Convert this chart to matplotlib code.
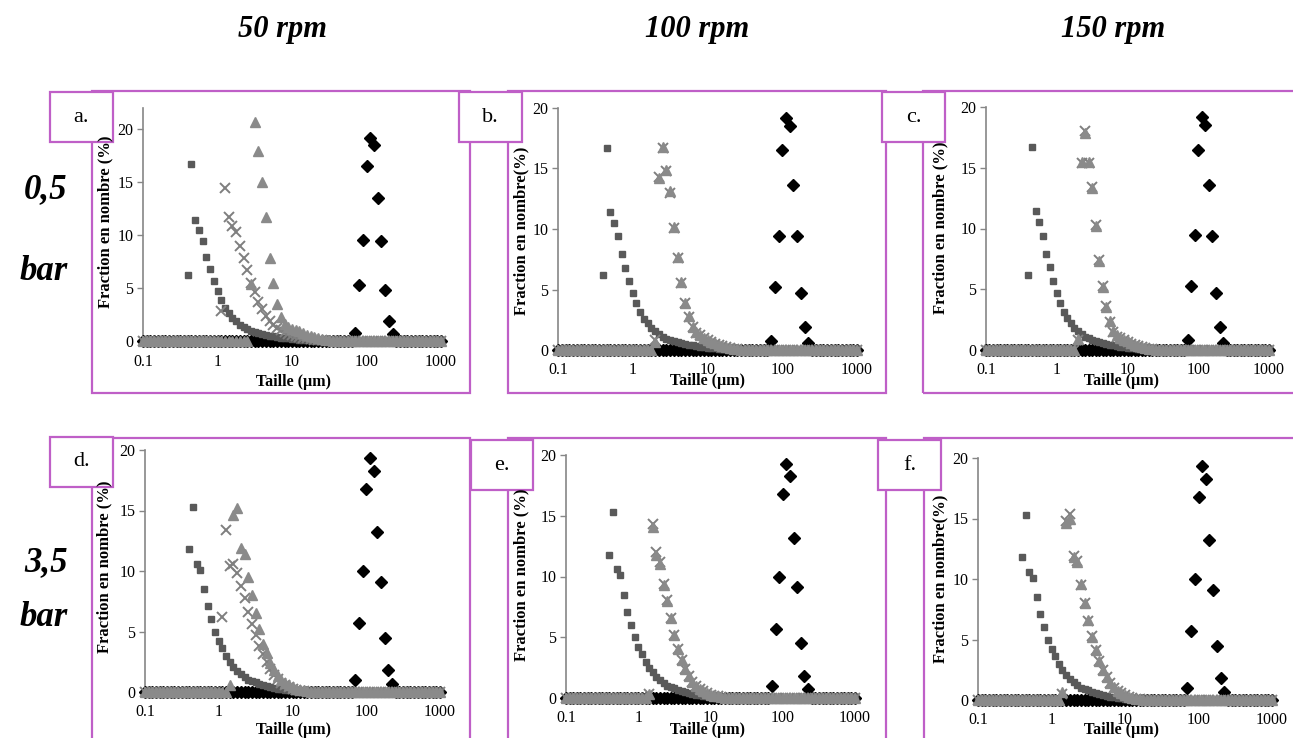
import numpy as np
import matplotlib
matplotlib.use("Agg")
import matplotlib.pyplot as plt
from matplotlib.patches import Rectangle

plt.rcParams['font.family'] = ['Liberation Serif', 'DejaVu Serif']

# ---------------- data ----------------
# particle size classes (µm), log-spaced bins as read on the axes
sizes = [0.1, 0.112, 0.126, 0.141, 0.158, 0.178, 0.2, 0.224, 0.251, 0.282,
         0.316, 0.355, 0.398, 0.447, 0.501, 0.562, 0.631, 0.708, 0.794, 0.891,
         1.0, 1.12, 1.26, 1.41, 1.58, 1.78, 2.0, 2.24, 2.51, 2.82,
         3.16, 3.55, 3.98, 4.47, 5.01, 5.62, 6.31, 7.08, 7.94, 8.91,
         10.0, 11.2, 12.6, 14.1, 15.8, 17.8, 20.0, 22.4, 25.1, 28.2,
         31.6, 35.5, 39.8, 44.7, 50.1, 56.2, 63.1, 70.8, 79.4, 89.1,
         100, 112, 126, 141, 158, 178, 200, 224, 251, 282,
         316, 355, 398, 447, 501, 562, 631, 708, 794, 891, 1000]

col_titles = ['50 rpm', '100 rpm', '150 rpm']
row_titles = [('0,5', 'bar'), ('3,5', 'bar')]
panel_letters = ['a.', 'b.', 'c.', 'd.', 'e.', 'f.']
xtick_vals = [0.1, 1, 10, 100, 1000]
xtick_labels = ['0.1', '1', '10', '100', '1000']
ytick_vals = [0, 5, 10, 15, 20]
xlabel_text = 'Taille (µm)'
ylabel_texts = ['Fraction en nombre (%)', 'Fraction en nombre(%)', 'Fraction en nombre (%)',
                'Fraction en nombre (%)', 'Fraction en nombre (%)', 'Fraction en nombre(%)']

# non-zero part of each series: (first size class, values); all other classes are 0
# squares (dark grey)
sq_top_start = 0.398
sq_top = [6.2, 16.7, 11.4, 10.5, 9.4, 7.9, 6.8, 5.7, 4.7, 3.9, 3.1, 2.6, 2.2, 1.85,
          1.55, 1.3, 1.1, 0.95, 0.85, 0.75, 0.65, 0.57, 0.5, 0.44, 0.38, 0.33, 0.28,
          0.24, 0.2, 0.16, 0.13, 0.1, 0.08, 0.06, 0.04, 0.03, 0.02, 0.01]
sq_bot_start = 0.398
sq_bot = [11.8, 15.3, 10.6, 10.1, 8.5, 7.1, 6.0, 5.0, 4.2, 3.6, 3.0, 2.5, 2.1, 1.75,
          1.45, 1.2, 1.0, 0.9, 0.8, 0.68, 0.58, 0.5, 0.42, 0.35, 0.28, 0.22, 0.17,
          0.13, 0.1, 0.07, 0.05, 0.03, 0.02]

# crosses (grey)
cr_a_start = 1.12
cr_a = [2.8, 14.4, 11.7, 10.9, 10.3, 9.0, 7.8, 6.7, 5.5, 4.6, 3.7, 3.0, 2.4, 1.9, 1.5,
        1.2, 1.0, 0.85, 0.7, 0.6, 0.5, 0.4, 0.32, 0.25, 0.19, 0.14, 0.1, 0.07, 0.04, 0.02]
cr_b_start = 2.0
cr_b = [0.8, 14.3, 16.7, 14.8, 13.0, 10.1, 7.6, 5.5, 3.9, 2.7, 1.9, 1.4, 1.2, 1.0, 0.8,
        0.65, 0.5, 0.4, 0.3, 0.22, 0.15, 0.1, 0.05, 0.02]
cr_c_start = 2.0
cr_c = [0.8, 15.4, 18.0, 15.4, 13.4, 10.3, 7.4, 5.3, 3.6, 2.3, 1.5, 1.1, 0.95, 0.8, 0.65,
        0.5, 0.4, 0.3, 0.22, 0.15, 0.1, 0.05, 0.02]
cr_d_start = 1.12
cr_d = [6.2, 13.4, 10.4, 10.6, 9.8, 8.8, 7.8, 6.6, 5.6, 4.7, 3.8, 3.1, 2.5, 1.9, 1.4,
        1.05, 0.78, 0.57, 0.4, 0.28, 0.18, 0.11, 0.06, 0.03]
cr_e_start = 1.41
cr_e = [0.3, 14.3, 12.0, 11.2, 9.4, 8.1, 6.6, 5.2, 4.0, 3.1, 2.4, 1.8, 1.35, 1.0, 0.75,
        0.55, 0.4, 0.28, 0.2, 0.13, 0.08, 0.04]
cr_f_start = 1.41
cr_f = [0.5, 14.8, 15.4, 11.9, 11.5, 9.5, 8.0, 6.5, 5.3, 4.1, 3.2, 2.5, 1.9, 1.4, 1.0,
        0.75, 0.55, 0.4, 0.28, 0.18, 0.11, 0.06, 0.03]

# triangles (light grey)
tr_a_start = 2.82
tr_a = [5.4, 20.7, 17.9, 15.05, 11.75, 7.8, 5.45, 3.5, 2.3, 1.6, 1.3, 1.15, 1.0, 0.9,
        0.75, 0.6, 0.45, 0.35, 0.25, 0.15, 0.1, 0.05]
tr_b_start = 2.0
tr_b = [0.7, 14.2, 16.8, 14.9, 13.1, 10.2, 7.7, 5.6, 3.9, 2.8, 1.9, 1.5, 1.2, 1.0, 0.85,
        0.7, 0.55, 0.45, 0.35, 0.25, 0.18, 0.12, 0.07, 0.03]
tr_c_start = 2.0
tr_c = [0.9, 15.5, 17.9, 15.5, 13.3, 10.2, 7.3, 5.2, 3.5, 2.4, 1.6, 1.2, 1.0, 0.85, 0.7,
        0.55, 0.45, 0.35, 0.25, 0.18, 0.12, 0.07, 0.03]
tr_d_start = 1.41
tr_d = [0.6, 14.6, 15.2, 11.9, 11.4, 9.5, 8.0, 6.5, 5.2, 4.0, 3.2, 2.4, 1.8, 1.35, 1.0,
        0.75, 0.55, 0.4, 0.28, 0.2, 0.13, 0.08, 0.04]
tr_e_start = 1.41
tr_e = [0.3, 14.1, 11.8, 11.0, 9.3, 8.0, 6.6, 5.2, 4.0, 3.1, 2.4, 1.8, 1.35, 1.0, 0.75,
        0.55, 0.4, 0.28, 0.2, 0.13, 0.08, 0.04]
tr_f_start = 1.41
tr_f = [0.7, 14.6, 15.0, 11.8, 11.4, 9.6, 8.0, 6.6, 5.2, 4.1, 3.2, 2.5, 1.9, 1.4, 1.05,
        0.78, 0.57, 0.4, 0.28, 0.18, 0.11, 0.06, 0.03]

# diamonds (black)
di_a_start = 70.8
di_a = [0.8, 5.3, 9.5, 16.5, 19.2, 18.5, 13.5, 9.4, 4.8, 1.9, 0.7]
di_b_start = 70.8
di_b = [0.75, 5.2, 9.45, 16.5, 19.2, 18.5, 13.6, 9.4, 4.7, 1.9, 0.6]
di_c_start = 70.8
di_c = [0.8, 5.25, 9.45, 16.5, 19.2, 18.5, 13.6, 9.4, 4.7, 1.9, 0.6]
di_bot_start = 70.8
di_bot = [1.0, 5.7, 10.0, 16.8, 19.3, 18.3, 13.2, 9.1, 4.5, 1.8, 0.7]

ymax_vals = [22, 20, 20, 20, 20, 20]

# ---------------- helpers ----------------
def place(start, vals):
    y = np.zeros(len(sizes))
    i = sizes.index(start)
    y[i:i + len(vals)] = vals
    return y

series = [
    (place(sq_top_start, sq_top), place(cr_a_start, cr_a), place(tr_a_start, tr_a), place(di_a_start, di_a)),
    (place(sq_top_start, sq_top), place(cr_b_start, cr_b), place(tr_b_start, tr_b), place(di_b_start, di_b)),
    (place(sq_top_start, sq_top), place(cr_c_start, cr_c), place(tr_c_start, tr_c), place(di_c_start, di_c)),
    (place(sq_bot_start, sq_bot), place(cr_d_start, cr_d), place(tr_d_start, tr_d), place(di_bot_start, di_bot)),
    (place(sq_bot_start, sq_bot), place(cr_e_start, cr_e), place(tr_e_start, tr_e), place(di_bot_start, di_bot)),
    (place(sq_bot_start, sq_bot), place(cr_f_start, cr_f), place(tr_f_start, tr_f), place(di_bot_start, di_bot)),
]

W, H = 1293, 738
fig = plt.figure(figsize=(W / 100, H / 100), dpi=100)
fig.patch.set_facecolor('white')

def fx(x):
    return x / W

def fy(y):
    return 1 - y / H

PURPLE = '#BF5FC7'
AXGREY = '#868686'

# layout in pixels
# plot area: left (x=0.1), right (x=1000), top (y=ymax), bottom (y=0)
ax_boxes = [(143, 441, 108, 341), (558, 857, 108, 350), (986, 1269, 107, 350),
            (145, 440, 450, 692), (566, 855, 455, 698), (978, 1272, 458, 700)]
frames = [(92, 91, 470, 393), (508, 91, 886, 393), (923, 91, 1305, 393),
          (92, 438, 470, 760), (508, 438, 886, 760), (924, 438, 1305, 760)]
label_boxes = [(50, 92, 113, 142), (459, 92, 522, 142), (882, 92, 945, 142),
               (50, 437, 113, 487), (471, 440, 533, 490), (878, 440, 941, 490)]
ylabel_pos = [(105, 222), (521, 231), (940, 228), (104, 567), (521, 575), (940, 579)]
xlabel_pos = [(294, 382), (708, 381), (1122, 381), (293, 730), (708, 730), (1122, 730)]

# frames
for (x0, y0, x1, y1) in frames:
    fig.patches.append(Rectangle((fx(x0), fy(y1)), fx(x1) - fx(x0), fy(y0) - fy(y1),
                                 transform=fig.transFigure, fill=False,
                                 edgecolor=PURPLE, linewidth=1.6, zorder=0))

for k in range(6):
    l, r, t, b = ax_boxes[k]
    ax = fig.add_axes([fx(l), fy(b), fx(r) - fx(l), fy(t) - fy(b)])
    ax.set_facecolor('none')
    ax.set_xscale('log')
    ax.set_xlim(0.1, 1000)
    ax.set_ylim(0, ymax_vals[k])
    sq, cr, tr, di = series[k]
    ax.plot(sizes, di, ls='none', marker='D', ms=5.8, color='black', mec='black',
            clip_on=False, zorder=3)
    ax.plot(sizes, sq, ls='none', marker='s', ms=5.0, color='#595959', mec='#595959',
            clip_on=False, zorder=4)
    ax.plot(sizes, cr, ls='none', marker='x', ms=7.0, mew=1.4, color='#7f7f7f',
            clip_on=False, zorder=5)
    ax.plot(sizes, tr, ls='none', marker='^', ms=7.5, color='#8a8a8a', mec='#8a8a8a',
            clip_on=False, zorder=6)
    ax.set_xticks(xtick_vals)
    ax.set_xticklabels(xtick_labels)
    ax.xaxis.set_minor_locator(matplotlib.ticker.NullLocator())
    ax.set_yticks(ytick_vals)
    ax.set_yticklabels([str(v) for v in ytick_vals])
    for s in ['top', 'right']:
        ax.spines[s].set_visible(False)
    for s in ['left', 'bottom']:
        ax.spines[s].set_color(AXGREY)
        ax.spines[s].set_linewidth(1.2)
    ax.tick_params(axis='y', direction='out', length=4, width=1.0, color=AXGREY,
                   labelsize=11.5, pad=3, labelcolor='black')
    ax.tick_params(axis='x', length=0, labelsize=11.5, pad=9, labelcolor='black')
    fig.text(fx(xlabel_pos[k][0]), fy(xlabel_pos[k][1]), xlabel_text, ha='center',
             va='center', fontsize=11.5, fontweight='bold')
    fig.text(fx(ylabel_pos[k][0]), fy(ylabel_pos[k][1]), ylabel_texts[k], ha='center',
             va='center', rotation=90, fontsize=12, fontweight='bold')

# letter boxes
for k, (x0, y0, x1, y1) in enumerate(label_boxes):
    fig.patches.append(Rectangle((fx(x0), fy(y1)), fx(x1) - fx(x0), fy(y0) - fy(y1),
                                 transform=fig.transFigure, facecolor='white',
                                 edgecolor=PURPLE, linewidth=1.6, zorder=2))
    fig.text(fx((x0 + x1) / 2), fy((y0 + y1) / 2), panel_letters[k], ha='center',
             va='center', fontsize=16, zorder=3)

# column and row titles
for txt, x in zip(col_titles, [283, 697, 1113]):
    fig.text(fx(x), fy(30), txt, ha='center', va='center', fontsize=22,
             fontweight='bold', fontstyle='italic')
for (t1, t2), (y1, y2) in zip(row_titles, [(190, 272), (563, 618)]):
    fig.text(fx(46), fy(y1), t1, ha='center', va='center', fontsize=25,
             fontweight='bold', fontstyle='italic')
    fig.text(fx(44), fy(y2), t2, ha='center', va='center', fontsize=25,
             fontweight='bold', fontstyle='italic')

fig.savefig('out.png', dpi=100)
